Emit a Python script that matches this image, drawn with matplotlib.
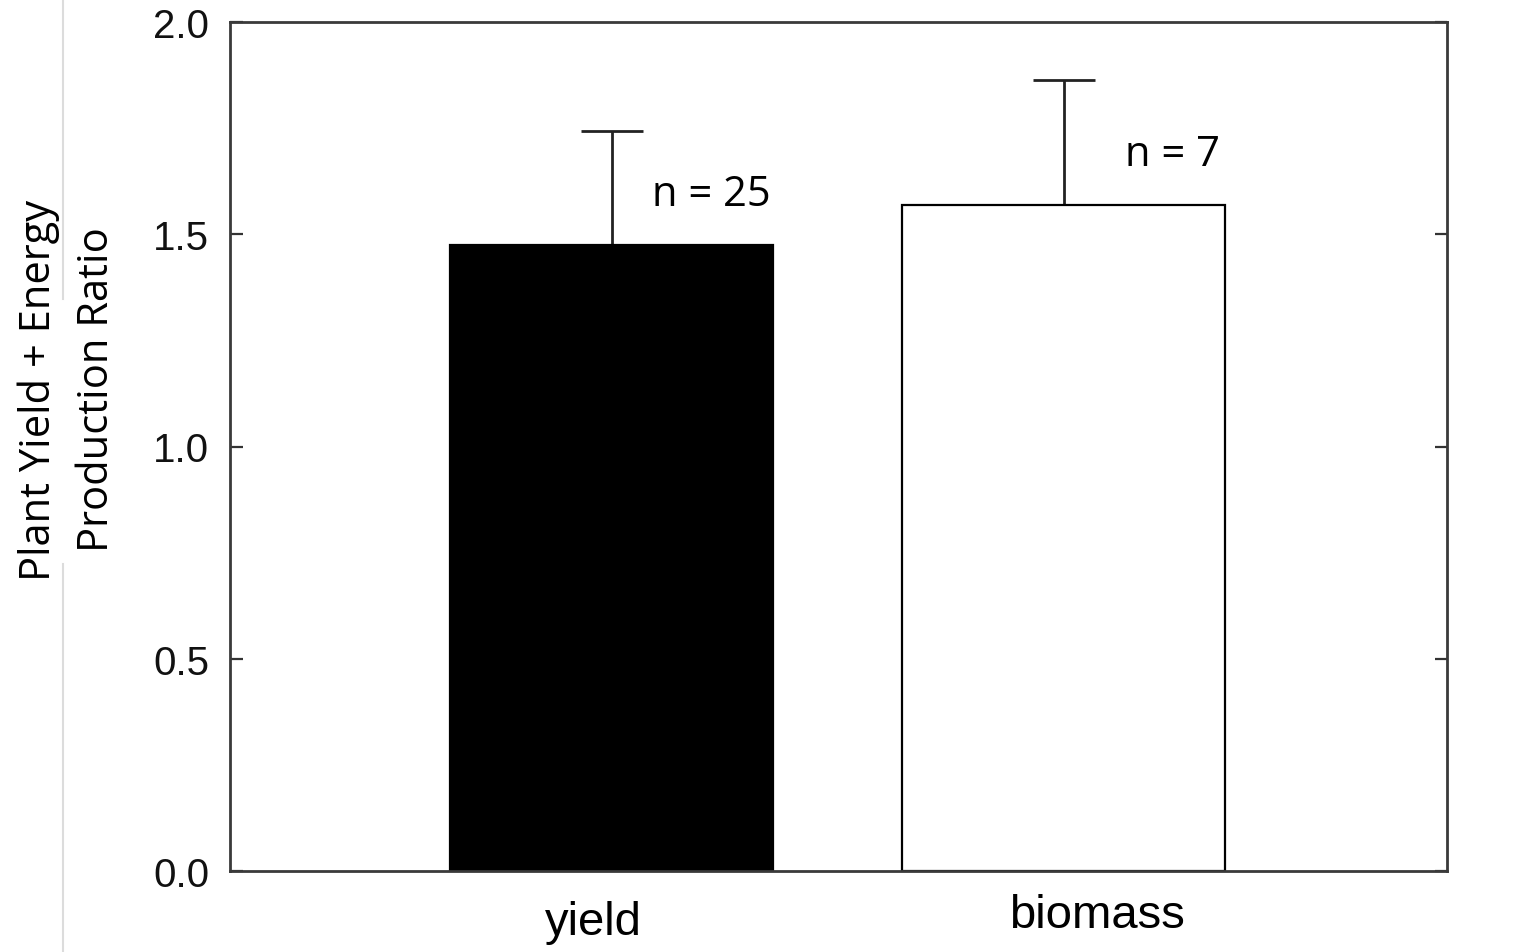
import matplotlib
matplotlib.use("Agg")
import matplotlib.pyplot as plt
from matplotlib.lines import Line2D

# ---- data ----
categories = ["yield", "biomass"]
means = [1.475, 1.569]
upper_err = [0.268, 0.295]
n_labels = ["n = 25", "n = 7"]
bar_colors = ["black", "white"]
yticks = [0.0, 0.5, 1.0, 1.5, 2.0]
ytick_labels = ["0.0", "0.5", "1.0", "1.5", "2.0"]

W, H = 1519, 953
fig = plt.figure(figsize=(W / 100, H / 100), dpi=100)
ax = fig.add_axes([230 / W, 1 - 872 / H, (1447 - 230) / W, (872 - 23) / H])

x = list(range(len(categories)))
ax.bar(x, means, width=0.714, color=bar_colors, edgecolor="black", linewidth=1.6, zorder=2)
ax.errorbar(x, means, yerr=[[0] * len(means), upper_err], fmt="none",
            ecolor="#222222", elinewidth=2.0, capsize=22, capthick=2.0, zorder=1)

ax.set_xlim(-0.844, 1.848)
ax.set_ylim(0, 2.0)
ax.set_yticks(yticks)
ax.set_yticklabels(ytick_labels, fontfamily="Liberation Sans", fontsize=29, color="#111111")
ax.set_xticks([])
ax.tick_params(axis="y", direction="in", length=9, width=1.6, color="#333333",
               right=True, pad=15)
for s in ax.spines.values():
    s.set_linewidth(2.0)
    s.set_color("#3a3a3a")

# category labels (offset as in the original)
label_dx = [-0.04, 0.074]
label_y = [-0.06, -0.052]
for xi, lab, dx, dy in zip(x, categories, label_dx, label_y):
    ax.text(xi + dx, dy, lab, transform=ax.get_xaxis_transform(), ha="center", va="center",
            fontfamily="Liberation Sans", fontsize=34)

# n labels
n_dx = [0.22, 0.24]
n_dy = [0.12, 0.12]
for xi, m, e, lab, dx, dy in zip(x, means, upper_err, n_labels, n_dx, n_dy):
    ax.text(xi + dx, m + dy, lab, ha="center", va="center",
            fontfamily="Open Sans", fontsize=30)

# y label
fig.text(68 / W, 1 - 390 / H, "Plant Yield + Energy\nProduction Ratio", rotation=90,
         ha="center", va="center", fontfamily="Open Sans", fontsize=30, linespacing=1.5)

# faint vertical line at left
fig.add_artist(Line2D([63 / W, 63 / W], [1.0, 1 - 300 / H], color="#dcdcdc", linewidth=1.5,
                      transform=fig.transFigure))
fig.add_artist(Line2D([63 / W, 63 / W], [1 - 565 / H, 0.0], color="#dcdcdc", linewidth=1.5,
                      transform=fig.transFigure))

fig.savefig("out.png", dpi=100)
